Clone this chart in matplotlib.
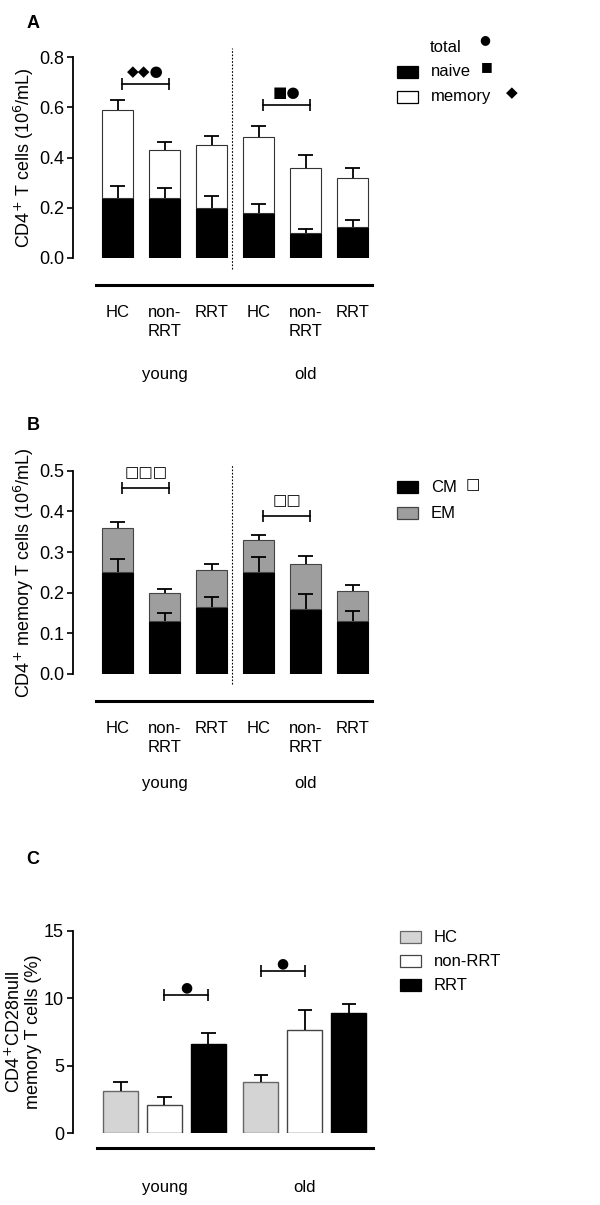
import matplotlib
matplotlib.use("Agg")
import matplotlib.pyplot as plt
from matplotlib.patches import Rectangle
import numpy as np

plt.rcParams['font.family'] = ['Liberation Sans', 'DejaVu Sans']

# ---- data ----
group_names = ['young', 'old']
subsets = ['HC', 'non-RRT', 'RRT']
tick_labels_ab = ['HC', 'non-\nRRT', 'RRT', 'HC', 'non-\nRRT', 'RRT']

# panel A: CD4+ T cells (10^6/mL)
a_total = [0.59, 0.43, 0.45, 0.48, 0.36, 0.32]
a_total_err = [0.04, 0.03, 0.035, 0.045, 0.05, 0.04]
a_naive = [0.24, 0.24, 0.20, 0.18, 0.10, 0.125]
a_naive_err = [0.045, 0.04, 0.045, 0.035, 0.015, 0.025]

# panel B: CD4+ memory T cells (10^6/mL)
b_total = [0.36, 0.20, 0.255, 0.33, 0.27, 0.205]
b_total_err = [0.013, 0.008, 0.015, 0.011, 0.021, 0.015]
b_cm = [0.25, 0.13, 0.165, 0.25, 0.16, 0.13]
b_cm_err = [0.034, 0.019, 0.024, 0.038, 0.037, 0.025]

# panel C: CD4+CD28null memory T cells (%)
c_vals = [3.1, 2.1, 6.6, 3.8, 7.65, 8.9]
c_err = [0.7, 0.6, 0.8, 0.5, 1.45, 0.7]

# significance brackets: (bar i, bar j, level, symbols)
a_brackets = [(0, 1, 0.694, '◆◆●'), (3, 4, 0.608, '■●')]
b_brackets = [(0, 1, 0.457, '□□□'), (3, 4, 0.389, '□□')]
c_brackets = [(1, 2, 10.25, '●'), (3, 4, 11.98, '●')]

W, H = 600, 1205
fig = plt.figure(figsize=(W / 100, H / 100), dpi=100)

TXT = 12      # horizontal texts
YLAB = 13     # rotated axis titles


def px_axes(left, top, right, bottom):
    return fig.add_axes([left / W, 1 - bottom / H, (right - left) / W, (bottom - top) / H])


def fxy(x, y):
    return x / W, 1 - y / H


def style_axis(ax, ymax, yticks, fmt):
    for s in ['top', 'right', 'bottom']:
        ax.spines[s].set_visible(False)
    ax.spines['left'].set_linewidth(1.3)
    ax.spines['left'].set_bounds(0, ymax)
    ax.set_ylim(0, ymax)
    ax.set_yticks(yticks)
    ax.set_yticklabels([fmt % t for t in yticks])
    ax.tick_params(axis='y', direction='out', length=4.5, width=1.2, labelsize=13, pad=2)
    ax.tick_params(axis='x', length=0, labelsize=TXT, pad=34)


def up_errors(ax, x, tops, errs, capw):
    tops = np.asarray(tops)
    errs = np.asarray(errs)
    ax.vlines(x, tops, tops + errs, color='black', lw=1.3, zorder=4)
    ax.hlines(tops + errs, x - capw / 2, x + capw / 2, color='black', lw=1.3, zorder=4)


def brackets(ax, pos, items, shift, sym_off, sym_size):
    for i, j, lvl, sym in items:
        x1, x2 = pos[i] + shift, pos[j] + shift
        ax.plot([x1, x2], [lvl, lvl], color='black', lw=1.2, marker='|',
                markersize=8, markeredgewidth=1.2, clip_on=False)
        ax.annotate(sym, xy=((x1 + x2) / 2, lvl), xytext=(0, sym_off),
                    textcoords='offset points', ha='center', va='center',
                    fontsize=sym_size, family='DejaVu Sans')


def base_line(ax, x0, x1, yfrac):
    trans = ax.get_xaxis_transform()
    ax.plot([x0, x1], [yfrac, yfrac], color='black', lw=2.2, transform=trans, clip_on=False)


def group_labels(ax, centers, yfrac):
    trans = ax.get_xaxis_transform()
    for c, name in zip(centers, group_names):
        ax.text(c, yfrac, name, transform=trans, ha='center', va='center', fontsize=TXT)


def legend_box(x, y, label, fc, ec='black'):
    fig.patches.append(Rectangle(fxy(x, y + 6), 21 / W, 12 / H, transform=fig.transFigure,
                                 facecolor=fc, edgecolor=ec, lw=0.9))
    fig.text(*fxy(x + 34, y), label, ha='left', va='center', fontsize=TXT)


# ---------------- panel A ----------------
pos_ab = np.arange(6)
axA = px_axes(73, 57, 380, 258)
axA.set_xlim(-0.947, 5.585)
style_axis(axA, 0.8, [0.0, 0.2, 0.4, 0.6, 0.8], '%.1f')
bw = 0.66
a_mem = np.array(a_total) - np.array(a_naive)
axA.bar(pos_ab, a_naive, bw, color='black', edgecolor='black', lw=0.8, zorder=2)
axA.bar(pos_ab, a_mem, bw, bottom=a_naive, color='white', edgecolor='#333333', lw=0.8, zorder=2)
up_errors(axA, pos_ab, a_naive, a_naive_err, 0.33)
up_errors(axA, pos_ab, a_total, a_total_err, 0.33)
axA.set_xticks(pos_ab)
axA.set_xticklabels(tick_labels_ab, linespacing=1.3)
axA.set_ylabel('CD4$^{+}$ T cells (10$^{6}$/mL)', fontsize=YLAB)
axA.yaxis.set_label_coords(-0.12, 0.5)
axA.plot([2.44, 2.44], [-0.044, 0.837], color='black', lw=0.8, ls=(0, (1.5, 1.5)), clip_on=False)
base_line(axA, -0.457, 5.415, -0.134)
group_labels(axA, [1, 4], -0.582)
brackets(axA, pos_ab, a_brackets, 0.1, 9, 11)

fig.text(*fxy(33, 23), 'A', fontsize=13, fontweight='bold', ha='center', va='center')
fig.text(*fxy(446, 47), 'total', ha='center', va='center', fontsize=TXT)
legend_box(397, 72, 'naive', 'black')
legend_box(397, 97, 'memory', 'white')
fig.text(*fxy(485, 40), '●', ha='center', va='center', fontsize=9, family='DejaVu Sans')
fig.text(*fxy(487, 67), '■', ha='center', va='center', fontsize=9, family='DejaVu Sans')
fig.text(*fxy(512, 93), '◆', ha='center', va='center', fontsize=11, family='DejaVu Sans')

# ---------------- panel B ----------------
axB = px_axes(73, 470.7, 380, 674)
axB.set_xlim(-0.947, 5.585)
style_axis(axB, 0.5, [0.0, 0.1, 0.2, 0.3, 0.4, 0.5], '%.1f')
b_em = np.array(b_total) - np.array(b_cm)
axB.bar(pos_ab, b_cm, bw, color='black', edgecolor='black', lw=0.8, zorder=2)
axB.bar(pos_ab, b_em, bw, bottom=b_cm, color='#9e9e9e', edgecolor='#444444', lw=0.8, zorder=2)
up_errors(axB, pos_ab, b_cm, b_cm_err, 0.33)
up_errors(axB, pos_ab, b_total, b_total_err, 0.33)
axB.set_xticks(pos_ab)
axB.set_xticklabels(tick_labels_ab, linespacing=1.3)
axB.set_ylabel('CD4$^{+}$ memory T cells (10$^{6}$/mL)', fontsize=YLAB)
axB.yaxis.set_label_coords(-0.12, 0.5)
axB.plot([2.44, 2.44], [-0.025, 0.515], color='black', lw=0.8, ls=(0, (1.5, 1.5)), clip_on=False)
base_line(axB, -0.457, 5.415, -0.133)
group_labels(axB, [1, 4], -0.537)
brackets(axB, pos_ab, b_brackets, 0.1, 11, 11)

fig.text(*fxy(33, 425), 'B', fontsize=13, fontweight='bold', ha='center', va='center')
legend_box(397, 487, 'CM', 'black')
legend_box(397, 513, 'EM', '#9e9e9e', '#444444')
fig.text(*fxy(473, 485), '□', ha='center', va='center', fontsize=11, family='DejaVu Sans')

# ---------------- panel C ----------------
pos_c = np.array([g * 3.19 + k for g in range(2) for k in range(3)])
axC = px_axes(73, 930.7, 380, 1133)
axC.set_xlim(-1.08, 5.9)
style_axis(axC, 15, [0, 5, 10, 15], '%d')
c_colors = ['#d4d4d4', 'white', 'black'] * 2
c_edges = ['#666666', '#444444', 'black'] * 2
axC.bar(pos_c, c_vals, 0.8, color=c_colors, edgecolor=c_edges, lw=1.0, zorder=2)
up_errors(axC, pos_c, c_vals, c_err, 0.33)
axC.set_xticks([])
axC.set_ylabel('CD4$^{+}$CD28null\nmemory T cells (%)', fontsize=YLAB, linespacing=1.1)
axC.yaxis.set_label_coords(-0.10, 0.5)
base_line(axC, -0.534, 5.74, -0.074)
group_labels(axC, [pos_c[:3].mean(), pos_c[3:].mean()], -0.267)
brackets(axC, pos_c, c_brackets, 0.0, 5.5, 10)

fig.text(*fxy(33, 859), 'C', fontsize=13, fontweight='bold', ha='center', va='center')
for k, (name, fc, ec) in enumerate(zip(subsets, c_colors[:3], c_edges[:3])):
    legend_box(400, 937 + 24 * k, name, fc, ec)

fig.savefig('out.png', dpi=100)
